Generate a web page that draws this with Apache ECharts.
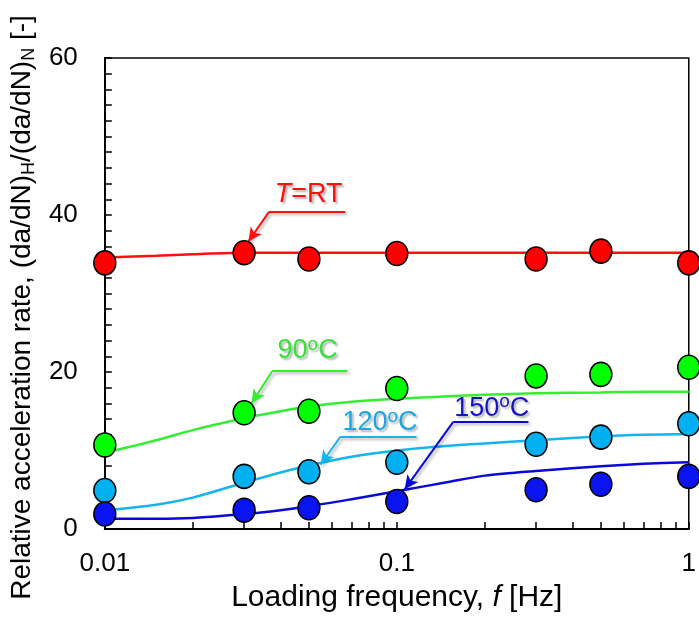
<!DOCTYPE html>
<html><head><meta charset="utf-8">
<script src="https://cdn.jsdelivr.net/npm/echarts@6/dist/echarts.min.js"></script>
<style>html,body{margin:0;padding:0;background:#fff}#c{width:699px;height:618px}</style>
</head><body><div id="c"></div>
<script>
// measured points
const freqs = [0.01, 0.03, 0.05, 0.1, 0.3, 0.5, 1];
const rtPoints = [33.9, 35.2, 34.4, 35.1, 34.4, 35.4, 33.9];
const c90Points = [10.7, 14.8, 15.0, 17.9, 19.5, 19.7, 20.6];
const c120Points = [4.9, 6.7, 7.3, 8.5, 10.8, 11.7, 13.4];
const c150Points = [1.9, 2.4, 2.7, 3.5, 5.0, 5.7, 6.7];

// fitted curves
const fitFreqs = [0.01, 0.015, 0.02, 0.03, 0.04, 0.05, 0.07, 0.1, 0.15, 0.2, 0.3, 0.5, 0.7, 1];
const rtFit   = [34.6, 34.8, 35.0, 35.2, 35.2, 35.2, 35.2, 35.2, 35.2, 35.2, 35.2, 35.2, 35.2, 35.2];
const c90Fit  = [9.7, 11.3, 12.6, 14.1, 15.0, 15.6, 16.2, 16.6, 16.9, 17.1, 17.3, 17.4, 17.5, 17.5];
const c120Fit = [2.4, 3.1, 4.0, 5.9, 7.2, 8.1, 9.2, 10.0, 10.6, 10.9, 11.3, 11.8, 12.0, 12.1];
const c150Fit = [1.3, 1.3, 1.4, 1.9, 2.4, 2.9, 3.8, 4.8, 6.0, 6.8, 7.4, 8.0, 8.3, 8.5];

// axis ticks
const xLabelValues = [0.01, 0.1, 1];
const xTickValues = [0.01,0.02,0.03,0.04,0.05,0.06,0.07,0.08,0.09,0.1,0.2,0.3,0.4,0.5,0.6,0.7,0.8,0.9,1];
const yMin = 0, yMax = 60, yStep = 20;

// annotation texts
const seriesNames = ['T=RT', '90°C', '120°C', '150°C'];
const annoTexts = ['{i|T}{n|=RT}', '{n|90}{s|o}{n|C}', '{n|120}{s|o}{n|C}', '{n|150}{s|o}{n|C}'];
// annotation anchor points in data space: text centre, bar start/end/y, arrow tip
const annoTextAt = [[0.0499, 42.6], [0.0495, 22.7], [0.0876, 13.5], [0.2115, 15.4]];
const annoBar = [[0.0365, 0.0666, 40.4], [0.0374, 0.0677, 20.1], [0.0641, 0.1169, 11.75], [0.1561, 0.2824, 13.64]];
const annoTip = [[0.0310, 36.6], [0.0318, 16.0], [0.0548, 8.2], [0.1064, 5.05]];

const pointColors = ['#ff0000', '#00ff00', '#00b0f0', '#0a14f0'];
const lineColors = ['#ff1010', '#33ee33', '#14b4ee', '#0a0ad8'];
const textColors = ['#ff1010', '#3ae03a', '#1aa8e4', '#1414c8'];

const fits = [rtFit, c90Fit, c120Fit, c150Fit];
const pts = [rtPoints, c90Points, c120Points, c150Points];
const FONT = "'Liberation Sans', Arial, sans-serif";

const series = [];
fits.forEach((f, k) => {
  const shadow = {textShadowColor:'rgba(0,0,0,0.3)', textShadowBlur:2, textShadowOffsetX:2, textShadowOffsetY:2};
  const bar = annoBar[k], tip = annoTip[k];
  series.push({
    name: seriesNames[k] + ' fit', type: 'line', smooth: 0.3, showSymbol: false, z: 2,
    data: fitFreqs.map((x, i) => [x, f[i]]),
    lineStyle: {color: lineColors[k], width: 2.5},
    markLine: {
      silent: true, animation: false,
      label: {show: false},
      lineStyle: {color: lineColors[k], width: 2, type: 'solid', shadowColor:'rgba(0,0,0,0.3)', shadowBlur:3, shadowOffsetX:2, shadowOffsetY:2},
      symbol: ['none', 'none'],
      data: [
        [{coord: [bar[0], bar[2]], symbol: 'none'}, {coord: [bar[1], bar[2]], symbol: 'none'}],
        [{coord: [bar[0], bar[2]], symbol: 'none'}, {coord: [tip[0], tip[1]], symbol: 'arrow', symbolSize: [10, 14]}]
      ]
    },
    markPoint: {
      silent: true, animation: false,
      symbol: 'circle', symbolSize: 1, itemStyle: {color: 'rgba(0,0,0,0)'},
      label: {
        show: true, position: 'inside', formatter: annoTexts[k],
        rich: {
          n: Object.assign({fontSize: 27, color: textColors[k], fontFamily: FONT}, shadow),
          i: Object.assign({fontSize: 27, color: textColors[k], fontFamily: FONT, fontStyle: 'italic'}, shadow),
          s: Object.assign({fontSize: 19, color: textColors[k], fontFamily: FONT, padding: [0, 0, 12, 0]}, shadow)
        }
      },
      data: [{coord: annoTextAt[k], value: 0}]
    }
  });
});
pts.forEach((p, k) => {
  series.push({
    name: seriesNames[k], type: 'scatter', z: 5,
    data: freqs.map((x, i) => [x, p[i]]),
    symbol: 'circle', symbolSize: [22, 24],
    itemStyle: {color: pointColors[k], borderColor: '#000', borderWidth: 1.5, opacity: 1}
  });
});

const chart = echarts.init(document.getElementById('c'), null, {renderer: 'canvas'});
chart.setOption({
  animation: false,
  backgroundColor: '#fff',
  textStyle: {fontFamily: FONT},
  grid: {left: 102, right: 7, top: 58, bottom: 86, show: true, borderColor: '#000', borderWidth: 1.5, backgroundColor: 'transparent'},
  xAxis: {
    type: 'log', logBase: 10, min: 0.01, max: 1,
    axisLine: {lineStyle: {color: '#000', width: 2}},
    axisTick: {show: true, inside: true, length: 7, lineStyle: {color: '#000', width: 1.5}, customValues: xTickValues},
    minorTick: {show: false},
    splitLine: {show: false},
    axisLabel: {color: '#000', fontSize: 26, margin: 22, fontFamily: FONT, customValues: xLabelValues,
      formatter: v => String(v)},
    name: 'Loading frequency, {i|f} [Hz]', nameLocation: 'middle', nameGap: 54,
    nameTextStyle: {color: '#000', fontSize: 30, fontFamily: FONT,
      rich: {i: {fontStyle: 'italic', fontSize: 30, color: '#000', fontFamily: FONT}}}
  },
  yAxis: {
    type: 'value', min: yMin, max: yMax, interval: yStep,
    axisLine: {show: true, lineStyle: {color: '#000', width: 2}},
    axisTick: {show: true, inside: true, length: 7, lineStyle: {color: '#000', width: 1.5}},
    minorTick: {show: true, splitNumber: 10, length: 7, lineStyle: {color: '#000', width: 1.5}},
    splitLine: {show: false},
    axisLabel: {color: '#000', fontSize: 26, margin: 27, fontFamily: FONT},
    name: 'Relative acceleration rate, (da/dN){s|H}/(da/dN){s|N} [-]',
    nameLocation: 'middle', nameRotate: 90, nameGap: 66,
    nameTextStyle: {color: '#000', fontSize: 28, fontFamily: FONT, padding: [0, 28, 0, 0],
      rich: {s: {fontSize: 18, color: '#000', fontFamily: FONT, padding: [14, 0, 0, 0]}}}
  },
  series: series
});
</script></body></html>
